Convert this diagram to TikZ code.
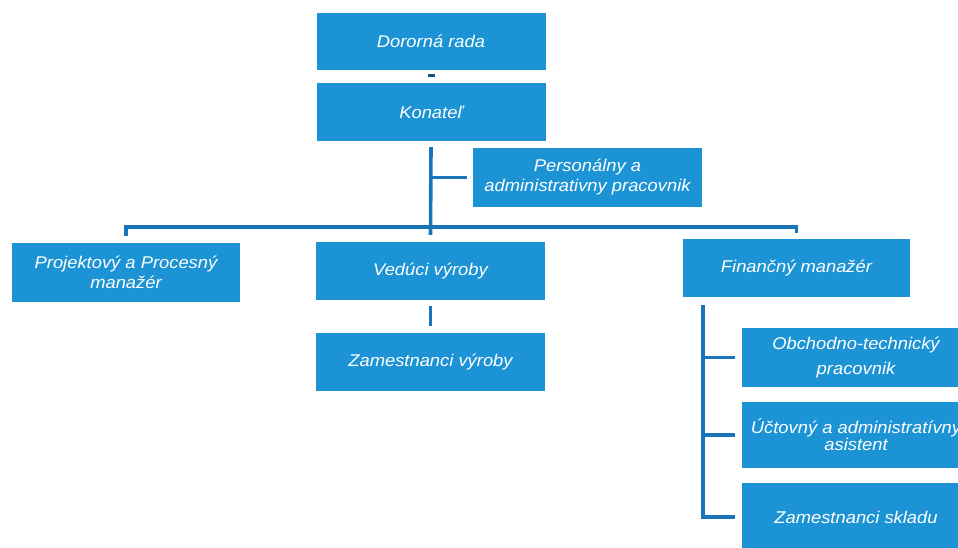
\documentclass[tikz,border=0pt]{standalone}
\usepackage{fontspec}
\setmainfont[FakeStretch=1.08]{Liberation Sans}
\definecolor{boxblue}{RGB}{28,147,212}
\definecolor{lineblue}{RGB}{26,118,186}
\begin{document}
\begin{tikzpicture}[x=1pt,y=-1pt,
  box/.style={rectangle, fill=boxblue, draw=none, text=white, inner sep=0pt,
    minimum width=229pt, minimum height=58pt, align=center,
    font=\fontsize{17}{20}\selectfont\itshape},
  conn/.style={draw=lineblue, line width=3.6pt},
  tick/.style={draw=lineblue!70!black, line width=7pt}]
\useasboundingbox (0,0) rectangle (958,548);
\clip (0,0) rectangle (958,548);
\fill[white] (0,0) rectangle (958,548);

\node[box, minimum height=57pt] (dr) at (431,41.5) {Dororná rada};
\node[box] (kon) at (431,112) {Konateľ};
\node[box, minimum height=59pt] (pers) at (587.5,177.5) {Personálny a\\administrativny pracovnik};
\node[box, minimum width=228pt, minimum height=59pt] (proj) at (126,272.5) {Projektový a Procesný\\manažér};
\node[box] (ved) at (430.5,271) {Vedúci výroby};
\node[box] (zv) at (430.5,362) {Zamestnanci výroby};
\node[box, minimum width=227pt] (fin) at (796.5,268) {Finančný manažér};
\node[box, minimum width=228pt, minimum height=59pt, font=\fontsize{17}{25}\selectfont\itshape] (ob) at (856,357.5) {Obchodno-technický\\pracovnik};
\node[box, minimum width=228pt, minimum height=66pt, font=\fontsize{17}{17}\selectfont\itshape] (uc) at (856,435) {Účtovný a administratívny\\asistent};
\node[box, minimum width=228pt, minimum height=68pt] (zs) at (856,517) {Zamestnanci skladu};

% small mark between the top boxes
\draw[tick, shorten <=4pt, shorten >=6pt] (dr.south) -- (kon.north);

% trunk from Konatel
\draw[conn] ([yshift=-6pt]kon.south) -- ([yshift=7pt]ved.north);
\draw[conn] (kon.south |- pers.west) -- ([xshift=-6pt]pers.west);

% bus
\coordinate (bus) at (431,227);
\draw[conn] ([yshift=7pt]proj.north) |- (bus) -| ([yshift=6pt]fin.north);

% Veduci -> Zamestnanci vyroby
\draw[conn] ([yshift=-6pt]ved.south) -- ([yshift=7pt]zv.north);

% Financny manazer tree
\coordinate (ft) at (703,305);
\draw[conn] (ft) |- ([xshift=-7pt]zs.west);
\draw[conn] (ft |- ob.west) -- ([xshift=-7pt]ob.west);
\draw[conn] (ft |- uc.west) -- ([xshift=-7pt]uc.west);
\end{tikzpicture}
\end{document}
